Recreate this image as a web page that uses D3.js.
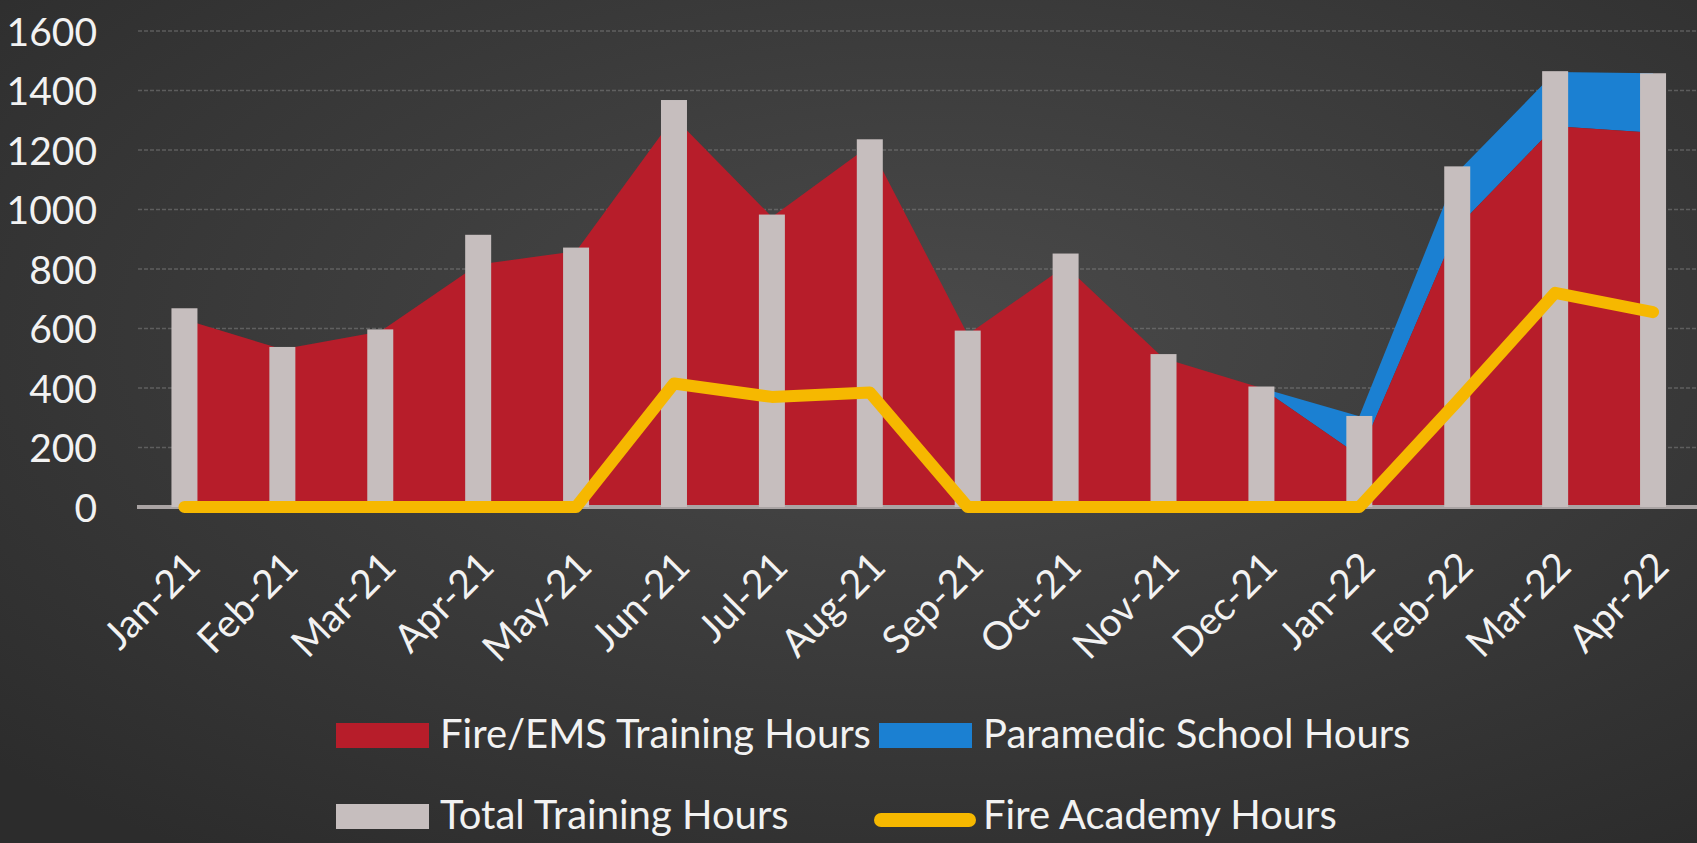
<!DOCTYPE html>
<html><head><meta charset="utf-8">
<script src="https://cdn.jsdelivr.net/npm/d3@7"></script>
<style>html,body{margin:0;padding:0;background:#383838;overflow:hidden}</style>
</head><body>
<svg id="c" width="1697" height="843"></svg>
<script>
const months = ["Jan-21","Feb-21","Mar-21","Apr-21","May-21","Jun-21","Jul-21","Aug-21","Sep-21","Oct-21","Nov-21","Dec-21","Jan-22","Feb-22","Mar-22","Apr-22"];
const totalHours     = [668, 538, 597, 915, 872, 1368, 983, 1236, 593, 852, 514, 405, 306, 1145, 1465, 1458];
const fireEmsHours   = [630, 530, 590, 815, 860, 1310, 975, 1215, 580, 810, 500, 400, 172, 940, 1280, 1258];
const paramedicHours = [0, 0, 0, 0, 0, 0, 0, 0, 0, 0, 0, 0, 133, 185, 182, 200];
const academyHours   = [0, 0, 0, 0, 0, 415, 370, 385, 0, 0, 0, 0, 0, 355, 720, 655];
const yTicks = [0, 200, 400, 600, 800, 1000, 1200, 1400, 1600];
const legendLabels = ["Fire/EMS Training Hours", "Paramedic School Hours", "Total Training Hours", "Fire Academy Hours"];

const W = 1697, H = 843;
const FONT = "Lato, 'Open Sans', sans-serif";
const C = {red:"#b71d2a", blue:"#1b80d2", gray:"#c6bebe", yellow:"#f6b800", text:"#f2f2f2", grid:"#858585", base:"#aaa4a4"};

const svg = d3.select("#c");
const defs = svg.append("defs");
const rg = defs.append("radialGradient").attr("id","bg").attr("cx","55%").attr("cy","40%").attr("r","75%");
rg.append("stop").attr("offset","0%").attr("stop-color","#4a4a4a");
rg.append("stop").attr("offset","100%").attr("stop-color","#2c2c2c");
svg.append("rect").attr("width",W).attr("height",H).attr("fill","url(#bg)");

const data = months.map((m,i)=>({m, total:totalHours[i], fire:fireEmsHours[i], para:paramedicHours[i], acad:academyHours[i]}));

const x = d3.scaleBand().domain(months).range([135.5, 1702]).padding(0);
const y = d3.scaleLinear().domain([0,1600]).range([507, 31]);
const cx = d => x(d.m) + x.bandwidth()/2;

// gridlines
svg.append("g").selectAll("line").data(yTicks.filter(t=>t>0)).join("line")
  .attr("x1",138).attr("x2",W).attr("y1",d=>y(d)).attr("y2",d=>y(d))
  .attr("stroke",C.grid).attr("stroke-width",1.5).attr("stroke-dasharray","4,2").attr("opacity",0.5);

// y axis labels
const ya = svg.append("g").attr("transform","translate(97,0)")
  .call(d3.axisLeft(y).tickValues(yTicks).tickFormat(d3.format("d")).tickSize(0).tickPadding(0));
ya.select(".domain").remove();
ya.selectAll("text").attr("fill",C.text).style("font-family",FONT).style("font-size","39px").attr("dy","0.36em");

// areas
svg.append("path").datum(data).attr("fill",C.blue)
  .attr("d", d3.area().x(cx).y0(d=>y(d.fire)).y1(d=>y(d.fire+d.para)));
svg.append("path").datum(data).attr("fill",C.red)
  .attr("d", d3.area().x(cx).y0(y(0)).y1(d=>y(d.fire)));

// baseline
svg.append("line").attr("x1",137).attr("x2",1697).attr("y1",y(0)).attr("y2",y(0))
  .attr("stroke",C.base).attr("stroke-width",4);

// bars
const barW = 26;
svg.append("g").selectAll("rect").data(data).join("rect")
  .attr("x",d=>cx(d)-barW/2).attr("width",barW)
  .attr("y",d=>y(d.total)).attr("height",d=>y(0)-y(d.total))
  .attr("fill",C.gray);

// academy line
svg.append("path").datum(data).attr("fill","none").attr("stroke",C.yellow)
  .attr("stroke-width",12).attr("stroke-linecap","round").attr("stroke-linejoin","round")
  .attr("d", d3.line().x(cx).y(d=>y(d.acad)));

// x axis labels
const xa = svg.append("g").attr("transform",`translate(0,${y(0)})`)
  .call(d3.axisBottom(x).tickSize(0).tickPadding(0));
xa.select(".domain").remove();
xa.selectAll("text").attr("fill",C.text).style("font-family",FONT).style("font-size","39px")
  .attr("y",0).attr("dy",0).attr("text-anchor","end")
  .attr("transform","translate(18,62) rotate(-45)");

// legend
const leg = svg.append("g").style("font-family",FONT).style("font-size","40px").attr("fill",C.text);
const items = [
  {label:legendLabels[0], color:C.red,   kind:"rect", x:336, y:723, tx:440, ty:748},
  {label:legendLabels[1], color:C.blue,  kind:"rect", x:879, y:723, tx:983, ty:748},
  {label:legendLabels[2], color:C.gray,  kind:"rect", x:336, y:804, tx:440, ty:829},
  {label:legendLabels[3], color:C.yellow,kind:"line", x:879, y:804, tx:983, ty:829}
];
items.forEach(it=>{
  if(it.kind==="rect"){
    leg.append("rect").attr("x",it.x).attr("y",it.y).attr("width",93).attr("height",25).attr("fill",it.color);
  } else {
    leg.append("line").attr("x1",it.x+2).attr("x2",it.x+90).attr("y1",it.y+16).attr("y2",it.y+16)
      .attr("stroke",it.color).attr("stroke-width",14).attr("stroke-linecap","round");
  }
  leg.append("text").attr("x",it.tx).attr("y",it.ty).text(it.label);
});
</script>
</body></html>
